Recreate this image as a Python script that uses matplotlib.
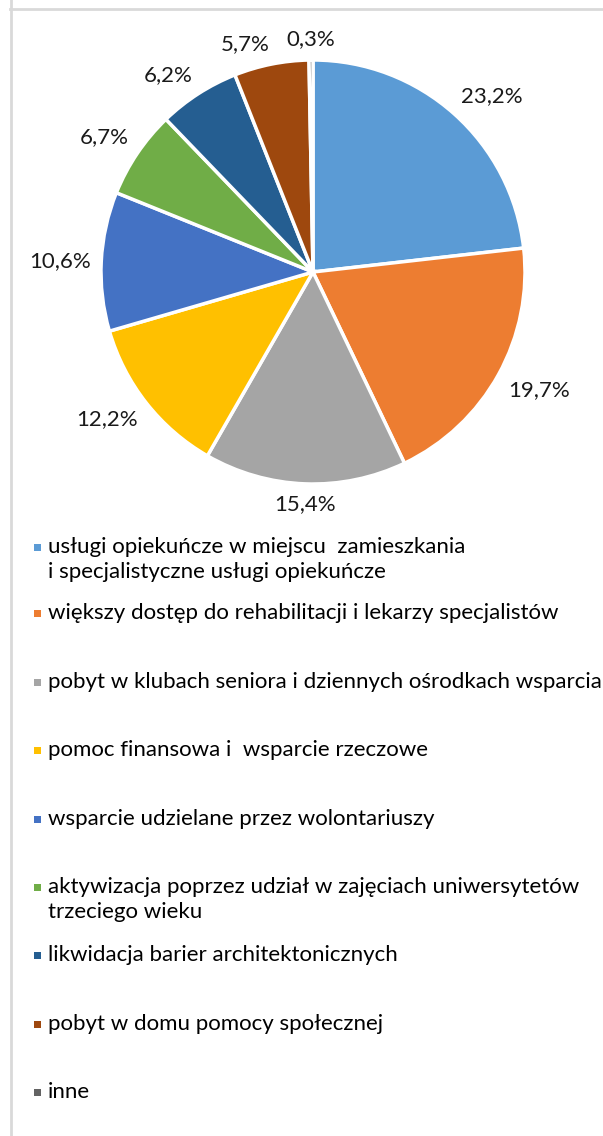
import numpy as np
import matplotlib
matplotlib.use("Agg")
import matplotlib.pyplot as plt
from matplotlib.patches import Rectangle
from matplotlib.lines import Line2D

plt.rcParams['font.family'] = ['Lato', 'DejaVu Sans']

# data
values = [23.2, 19.7, 15.4, 12.2, 10.6, 6.7, 6.2, 5.7, 0.3]
pct_labels = ["23,2%", "19,7%", "15,4%", "12,2%", "10,6%", "6,7%", "6,2%", "5,7%", "0,3%"]
categories = [
    "usługi opiekuńcze w miejscu  zamieszkania\ni specjalistyczne usługi opiekuńcze",
    "większy dostęp do rehabilitacji i lekarzy specjalistów",
    "pobyt w klubach seniora i dziennych ośrodkach wsparcia",
    "pomoc finansowa i  wsparcie rzeczowe",
    "wsparcie udzielane przez wolontariuszy",
    "aktywizacja poprzez udział w zajęciach uniwersytetów\ntrzeciego wieku",
    "likwidacja barier architektonicznych",
    "pobyt w domu pomocy społecznej",
    "inne",
]
colors = ["#5B9BD5", "#ED7D31", "#A5A5A5", "#FFC000", "#4472C4",
          "#70AD47", "#255E91", "#9E480E", "#636363"]

W, H = 603, 1136
fig = plt.figure(figsize=(W / 100, H / 100), dpi=100)

# frame lines (left and top)
fig.add_artist(Line2D([10.5 / W, 10.5 / W], [0, 1], color="#D9D9D9", lw=2))
fig.add_artist(Line2D([10 / W, 1], [1 - 8.5 / H, 1 - 8.5 / H], color="#D9D9D9", lw=2))

# pie
cx, cy, r = 313, 272, 212
ax = fig.add_axes([(cx - r) / W, 1 - (cy + r) / H, 2 * r / W, 2 * r / H])
wedges, _ = ax.pie(values, colors=colors, startangle=90, counterclock=False,
                   radius=1, wedgeprops=dict(edgecolor="white", linewidth=2.5))
ax.set_xlim(-1, 1)
ax.set_ylim(-1, 1)
ax.set_axis_off()

for w, lab in zip(wedges, pct_labels):
    ang = np.deg2rad((w.theta1 + w.theta2) / 2)
    c, s = np.cos(ang), np.sin(ang)
    ha = "left" if c > 0.15 else ("right" if c < -0.15 else "center")
    va = "bottom" if s > 0.3 else ("top" if s < -0.3 else "center")
    ax.text(1.05 * c, 1.05 * s, lab, ha=ha, va=va, fontsize=16, color="#1a1a1a")

# legend
first_y = [547, 613, 682, 750, 819, 887, 955, 1024, 1092]
for y, col, name in zip(first_y, colors, categories):
    fig.add_artist(Rectangle((34 / W, 1 - (y + 4) / H), 7 / W, 7 / H,
                             transform=fig.transFigure, color=col, lw=0))
    lines = name.split("\n")
    for k, ln in enumerate(lines):
        fig.text(48 / W, 1 - (y + 25 * k) / H, ln, ha="left", va="center",
                 fontsize=16, color="#000000")

fig.savefig("out.png", dpi=100)
